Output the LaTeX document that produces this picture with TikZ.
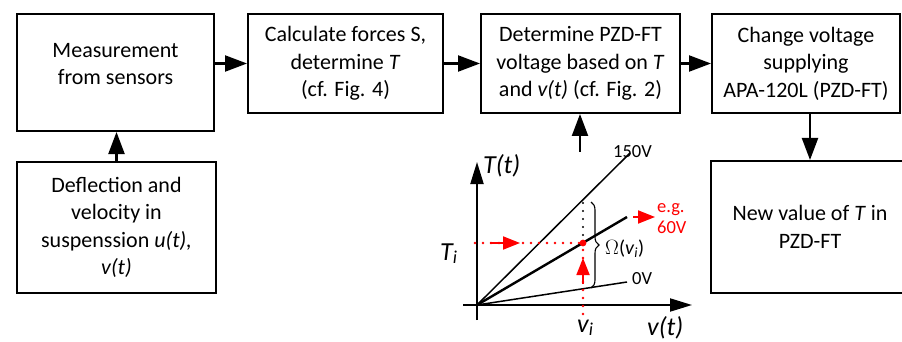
\documentclass[tikz,border=0pt]{standalone}
\usepackage{fontspec}
\setmainfont{Carlito}
\usetikzlibrary{arrows.meta,decorations.pathreplacing,calc}
\begin{document}
\begin{tikzpicture}[x=1pt,y=-1pt,
  box/.style={draw, line width=2pt, align=center, inner sep=0pt, font=\fontsize{22}{27.5}\selectfont},
  lbl/.style={align=center, inner sep=0pt, font=\fontsize{22}{27.5}\selectfont},
  arr/.style={line width=2.2pt, -{Triangle[length=22pt,width=16pt]}},
  axis/.style={line width=2pt, -{Triangle[length=22pt,width=13pt]}},
  rarr/.style={red, line width=1.8pt, -{Triangle[length=17pt,width=13pt]}},
  rdots/.style={red, line width=2.8pt, line cap=round, dash pattern=on 0pt off 8pt},
  kdots/.style={black, line width=2.4pt, line cap=round, dash pattern=on 0pt off 8pt},
  glbl/.style={inner sep=0pt, font=\fontsize{26}{30}\selectfont\itshape},
  vlbl/.style={inner sep=0pt, font=\fontsize{18.5}{21}\selectfont},
]
\useasboundingbox (0,0) rectangle (902,342);
\clip (0,0) rectangle (902,342);
% boxes
\node[box, minimum width=197pt, minimum height=117pt] (b1) at (115.5,72.5) {};
\node[lbl] (b1t) at (115.5,64) {Measurement\\from sensors};
\node[box, minimum width=195pt, minimum height=99pt] (b2) at (345.5,63.5) {Calculate forces S,\\determine \textit{T}\\(cf. Fig. 4)};
\node[box, minimum width=199pt, minimum height=99pt] (b3) at (580.5,63.5) {Determine PZD-FT\\voltage based on \textit{T}\\and \textit{v(t)} (cf. Fig. 2)};
\node[box, minimum width=188pt, minimum height=99pt] (b4) at (806,63.5) {Change voltage\\supplying\\APA-120L (PZD-FT)};
\node[box, minimum width=199pt, minimum height=131pt] (b5) at (116.5,227.5) {Deflection and\\velocity in\\suspenssion \textit{u(t),}\\\textit{v(t)}};
\node[box, minimum width=198pt, minimum height=132pt] (b6) at (810,227) {New value of \textit{T} in\\PZD-FT};
% connectors
\draw[arr] (b1.east |- b2.west) -- (b2.west);
\draw[arr] (b2.east) -- (b3.west);
\draw[arr] (b3.east) -- (b4.west);
\draw[arr] (b5.north) -- (b5.north |- b1.south);
\draw[arr] (b6.north |- b4.south) -- (b6.north);
\coordinate (up) at (580,152);
\draw[arr] (up) -- (up |- b3.south);
% graph
\coordinate (O) at (477,305);
\coordinate (ytop) at (477,162);
\coordinate (ybot) at (477,320);
\coordinate (xl) at (463,305);
\coordinate (xr) at (692,305);
\draw[axis] (ybot) -- (ytop);
\draw[axis] (xl) -- (xr);
\coordinate (L150) at (630,153);
\coordinate (Lmid) at (627,217);
\coordinate (L0) at (627,282);
\draw[line width=1.5pt] (O) -- (L150);
\draw[line width=2.4pt] (O) -- (Lmid);
\draw[line width=1.5pt] (O) -- (L0);
\coordinate (P) at (583,243);
\coordinate (Q) at (583,202);
\coordinate (Hl) at (475,243);
\coordinate (Vb) at (583,314);
\draw[kdots] (P) -- (Q);
\draw[rdots] (Hl) -- (P);
\draw[rdots] (Vb) -- (P);
\coordinate (ha) at (490,243);
\coordinate (hb) at (520,243);
\draw[rarr] (ha) -- (hb);
\coordinate (va) at (583,284);
\coordinate (vb) at (583,258);
\draw[rarr] (va) -- (vb);
\fill[red] (P) circle (3.4pt);
\coordinate (ea) at (633,217);
\coordinate (eb) at (655,217);
\draw[rarr] (ea) -- (eb);
\coordinate (bt) at (591,202);
\coordinate (bb) at (591,288);
\draw[line width=1.1pt, decorate, decoration={brace, amplitude=8pt}] (bt) -- (bb);
% labels
\node[vlbl, anchor=west] (l150) at (613,152) {150V};
\node[vlbl, anchor=west] (l0) at (632,279) {0V};
\node[vlbl, anchor=west, red, align=left] (leg) at (657,219) {e.g.\\60V};
\node[inner sep=0pt, font=\fontsize{20}{24}\selectfont, anchor=base west] (lom) at (605,254) {$\Omega$(\textit{v}\textsubscript{\textit{i}})};
\node[glbl, anchor=west] (lTt) at (483,166) {T(t)};
\node[glbl, anchor=base west] (lTi) at (440,260) {T\textsubscript{i}};
\node[glbl, anchor=base west] (lvi) at (577,332) {v\textsubscript{i}};
\node[glbl, anchor=base west] (lvt) at (647,335) {v(t)};
\end{tikzpicture}
\end{document}
